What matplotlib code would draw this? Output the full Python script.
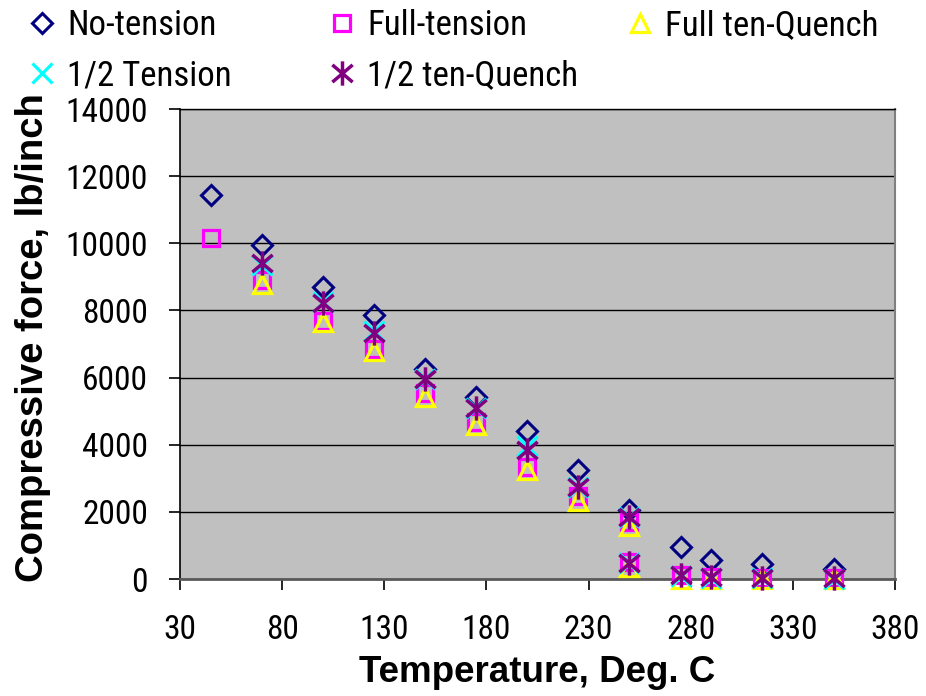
import matplotlib
matplotlib.use("Agg")
import matplotlib.pyplot as plt
from matplotlib.path import Path
from matplotlib import font_manager

names = {f.name for f in font_manager.fontManager.ttflist}
NARROW = 'Liberation Sans'
for cand in ['Liberation Sans Narrow', 'Arial Narrow', 'Roboto Condensed',
             'Archivo Narrow', 'PT Sans Narrow', 'Asap Condensed']:
    if cand in names:
        NARROW = cand
        break
plt.rcParams['font.family'] = ['Liberation Sans', 'DejaVu Sans']

# ---------------- data ----------------
x_no = [45, 70, 100, 125, 150, 175, 200, 225, 250, 275, 290, 315, 350]
y_no = [11450, 9950, 8700, 7870, 6250, 5420, 4400, 3250, 2050, 950, 570, 460, 310]

x_full = [45, 70, 100, 125, 150, 175, 200, 225, 250, 250, 275, 290, 315, 350]
y_full = [10150, 8900, 7700, 6850, 5530, 4690, 3350, 2460, 1700, 500, 120, 50, 30, 20]

x_fullq = [70, 100, 125, 150, 175, 200, 225, 250, 250, 275, 290, 315, 350]
y_fullq = [8800, 7650, 6780, 5430, 4600, 3260, 2320, 1570, 350, 0, 0, 0, 0]

x_half = [70, 100, 125, 150, 175, 200, 225, 250, 250, 275, 290, 315, 350]
y_half = [9350, 8250, 7400, 5950, 5100, 3950, 2750, 1850, 480, 80, 40, 20, 10]

x_halfq = [70, 100, 125, 150, 175, 200, 225, 250, 250, 275, 290, 315, 350]
y_halfq = [9400, 8230, 7320, 5950, 5080, 3840, 2750, 1860, 490, 110, 60, 40, 30]

labels = ["No-tension", "Full-tension", "Full ten-Quench", "1/2 Tension", "1/2 ten-Quench"]
x_ticks = [30, 80, 130, 180, 230, 280, 330, 380]
y_ticks = [0, 2000, 4000, 6000, 8000, 10000, 12000, 14000]

# Excel-like asterisk marker: X with a vertical bar
star = Path([(-1, -0.85), (1, 0.85), (-1, 0.85), (1, -0.85), (0, -1.2), (0, 1.2)],
            [Path.MOVETO, Path.LINETO, Path.MOVETO, Path.LINETO, Path.MOVETO, Path.LINETO])

styles = [
    dict(marker='D', ms=10, mec='#000080', mfc='none', mew=2.2),
    dict(marker='s', ms=12, mec='#FF00FF', mfc='none', mew=2.3),
    dict(marker='^', ms=13, mec='#FFFF00', mfc='none', mew=2.3),
    dict(marker='x', ms=14, mec='#00FFFF', mfc='none', mew=2.3),
    dict(marker=star, ms=17.5, mec='#800080', mfc='none', mew=2.5),
]

fig = plt.figure(figsize=(9.26, 6.96), dpi=100)
ax = fig.add_axes([180 / 926, 1 - 579 / 696, 715 / 926, 470 / 696])
ax.set_facecolor('#C0C0C0')

series = [(x_no, y_no), (x_full, y_full), (x_fullq, y_fullq), (x_half, y_half), (x_halfq, y_halfq)]
handles = []
for (xs, ys), st, lab in zip(series, styles, labels):
    h, = ax.plot(xs, ys, linestyle='none', clip_on=False, zorder=3, label=lab, **st)
    handles.append(h)

ax.set_xlim(30, 380)
ax.set_ylim(0, 14000)
ax.set_xticks(x_ticks)
ax.set_yticks(y_ticks)
ax.set_xticklabels([str(v) for v in x_ticks])
ax.set_yticklabels([str(v) for v in y_ticks])
for t in ax.get_xticklabels() + ax.get_yticklabels():
    t.set_fontfamily([NARROW, 'DejaVu Sans'])
    t.set_fontsize(24)
ax.yaxis.grid(True, color='black', linewidth=1.0)
ax.set_axisbelow(True)

ax.tick_params(axis='both', direction='out', length=8, width=1.2, colors='black')
ax.tick_params(axis='x', pad=17)
ax.tick_params(axis='y', pad=15)

ax.spines['left'].set_color('black')
ax.spines['left'].set_linewidth(1.2)
ax.spines['bottom'].set_color('#5a5a5a')
ax.spines['bottom'].set_linewidth(2.0)
ax.spines['right'].set_color('#808080')
ax.spines['right'].set_linewidth(1.5)
ax.spines['top'].set_color('black')
ax.spines['top'].set_linewidth(1.0)

ax.set_xlabel("Temperature, Deg. C", fontsize=26.5, fontweight='bold')
ax.xaxis.label.set_va('center')
ax.xaxis.set_label_coords(0.5, -0.200)
ax.set_ylabel("Compressive force, lb/inch", fontsize=27.5, fontweight='bold')
ax.yaxis.label.set_va('center')
ax.yaxis.set_label_coords(-0.205, 0.513)

# legend: three columns placed at fixed positions like the Excel legend
cols = [[0, 3], [1, 4], [2]]
col_x = [29, 329, 627]
for idxs, cx in zip(cols, col_x):
    fig.legend([handles[i] for i in idxs], [labels[i] for i in idxs],
               loc='upper left', bbox_to_anchor=(cx / 926, 1 - 9 / 696),
               frameon=False, prop={'family': [NARROW, 'DejaVu Sans'], 'size': 25},
               handlelength=0.75, handletextpad=0.35,
               labelspacing=0.5, borderaxespad=0, borderpad=0)

fig.savefig("out.png", dpi=100)
